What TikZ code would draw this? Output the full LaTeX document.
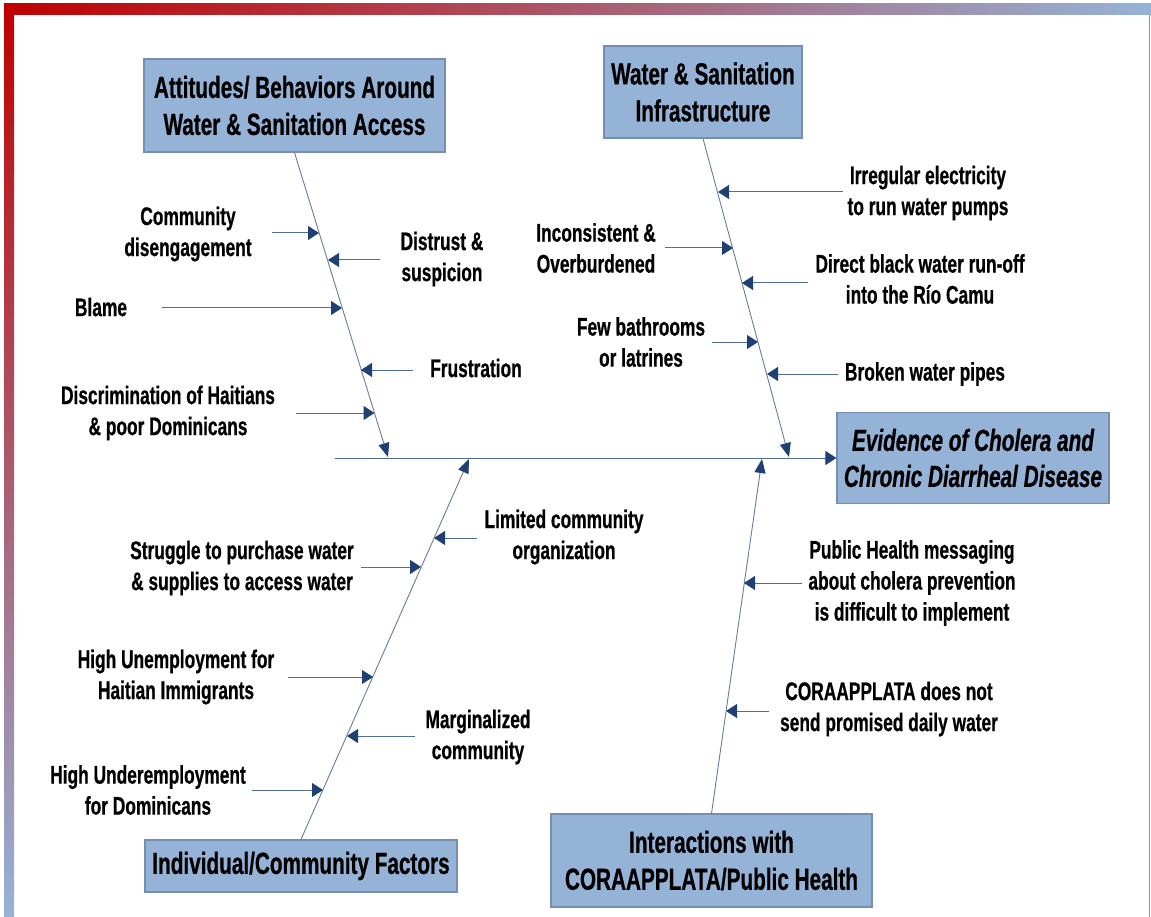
\documentclass[tikz,border=0pt]{standalone}
\usepackage{fontspec}
\setmainfont{Liberation Sans}[FakeStretch=0.68,BoldFeatures={FakeBold=0.6},BoldItalicFeatures={FakeBold=0.6}]
\usetikzlibrary{arrows.meta,calc}
\definecolor{boxfill}{RGB}{149,179,215}
\definecolor{boxdraw}{RGB}{118,142,180}
\definecolor{shaft}{RGB}{79,110,150}
\definecolor{branchc}{RGB}{105,125,155}
\definecolor{tipc}{RGB}{31,64,115}
\definecolor{brred}{RGB}{192,0,0}
\definecolor{brblue}{RGB}{149,179,215}
\begin{document}
\begin{tikzpicture}[x=1pt,y=-1pt,
  catbox/.style={draw=boxdraw,line width=1.2pt,fill=boxfill,align=center,inner sep=0pt,font=\fontsize{30.5}{37}\selectfont\bfseries},
  effbox/.style={catbox,font=\fontsize{30.5}{36}\selectfont\bfseries\itshape},
  lbl/.style={align=center,inner sep=0pt,font=\fontsize{25.5}{31}\selectfont\bfseries},
  bone/.style={draw=branchc,line width=0.9pt,-{Triangle[length=14pt,width=11pt,color=tipc]}},
  rib/.style={draw=shaft,line width=1pt,-{Triangle[length=11pt,width=14pt,color=tipc]}},
]
% page and frame
\fill[white] (0,0) rectangle (1151,917);
\useasboundingbox (0,0) rectangle (1151,917);
\shade[top color=brred,bottom color=brblue] (4,4) rectangle (14,917);
\shade[left color=brred,right color=brblue] (4,4) rectangle (1151,15);
\draw[brred!55,line width=0.8pt] (1149.5,15) -- (1149.5,917);

% category boxes and effect
\node[catbox,minimum width=301pt,minimum height=93pt] (B1) at (294.5,105.5) {Attitudes/ Behaviors Around\\Water \& Sanitation Access};
\node[catbox,minimum width=198pt,minimum height=92pt] (B2) at (703,92) {Water \& Sanitation\\Infrastructure};
\node[effbox,minimum width=272pt,minimum height=91pt] (B3) at (973,458) {Evidence of Cholera and\\Chronic Diarrheal Disease};
\node[catbox,minimum width=312pt,minimum height=52pt] (B4) at (301,866) {Individual/Community Factors};
\node[catbox,minimum width=321pt,minimum height=93pt] (B5) at (711.5,860.5) {Interactions with\\CORAAPPLATA/Public Health};

% spine and bones
\coordinate (sp0) at (335,458);
\coordinate (s1) at (388,457);
\coordinate (s2) at (789,457);
\coordinate (s3) at (469,459);
\coordinate (s4) at (762,459);
\draw[rib] (sp0) -- (B3.west);
\draw[bone] (B1.south) -- (s1);
\draw[bone] (B2.south) -- (s2);
\draw[bone] (B4.north) -- (s3);
\draw[bone] (B5.north) -- (s4);

% labels
\node[lbl] (L1) at (188,234) {Community\\disengagement};
\node[lbl] (L2) at (442,259) {Distrust \&\\suspicion};
\node[lbl] (L3) at (101,307) {Blame};
\node[lbl] (L4) at (476,368) {Frustration};
\node[lbl] (L5) at (168,413) {Discrimination of Haitians\\\& poor Dominicans};
\node[lbl] (L6) at (928,193) {Irregular electricity\\to run water pumps};
\node[lbl] (L7) at (596,248) {Inconsistent \&\\Overburdened};
\node[lbl] (L8) at (920,279) {Direct black water run-off\\into the Río Camu};
\node[lbl] (L9) at (641,342) {Few bathrooms\\or latrines};
\node[lbl] (L10) at (925,374) {Broken water pipes};
\node[lbl] (L11) at (564,537) {Limited community\\organization};
\node[lbl] (L12) at (242,568) {Struggle to purchase water\\\& supplies to access water};
\node[lbl] (L13) at (176,677) {High Unemployment for\\Haitian Immigrants};
\node[lbl] (L14) at (478,737) {Marginalized\\community};
\node[lbl] (L15) at (148,790) {High Underemployment\\for Dominicans};
\node[lbl] (L16) at (912,583) {Public Health messaging\\about cholera prevention\\is difficult to implement};
\node[lbl] (L17) at (889,709) {CORAAPPLATA does not\\send promised daily water};

% rib coordinates (tail a, tip b)
\coordinate (a1) at (272,233);   \coordinate (b1) at (319,233);
\coordinate (a2) at (380,260);   \coordinate (b2) at (328,260);
\coordinate (a3) at (162,308);   \coordinate (b3) at (342,308);
\coordinate (a4) at (413,370);   \coordinate (b4) at (361,370);
\coordinate (a5) at (296,413);   \coordinate (b5) at (374.5,413);
\coordinate (a6) at (843,192);   \coordinate (b6) at (718,192);
\coordinate (a7) at (665,248);   \coordinate (b7) at (733,248);
\coordinate (a8) at (808,283);   \coordinate (b8) at (742,283);
\coordinate (a9) at (712,342);   \coordinate (b9) at (758,342);
\coordinate (a10) at (838,374);  \coordinate (b10) at (767,374);
\coordinate (a11) at (477,538);  \coordinate (b11) at (434,538);
\coordinate (a12) at (361,567);  \coordinate (b12) at (421,567);
\coordinate (a13) at (288,677);  \coordinate (b13) at (373,677);
\coordinate (a14) at (415,736);  \coordinate (b14) at (347,736);
\coordinate (a15) at (252,790);  \coordinate (b15) at (323,790);
\coordinate (a16) at (802,583);  \coordinate (b16) at (744,583);
\coordinate (a17) at (769,711);  \coordinate (b17) at (726,711);
\foreach \i in {1,...,17} {\draw[rib] (a\i) -- (b\i);}
\end{tikzpicture}
\end{document}
